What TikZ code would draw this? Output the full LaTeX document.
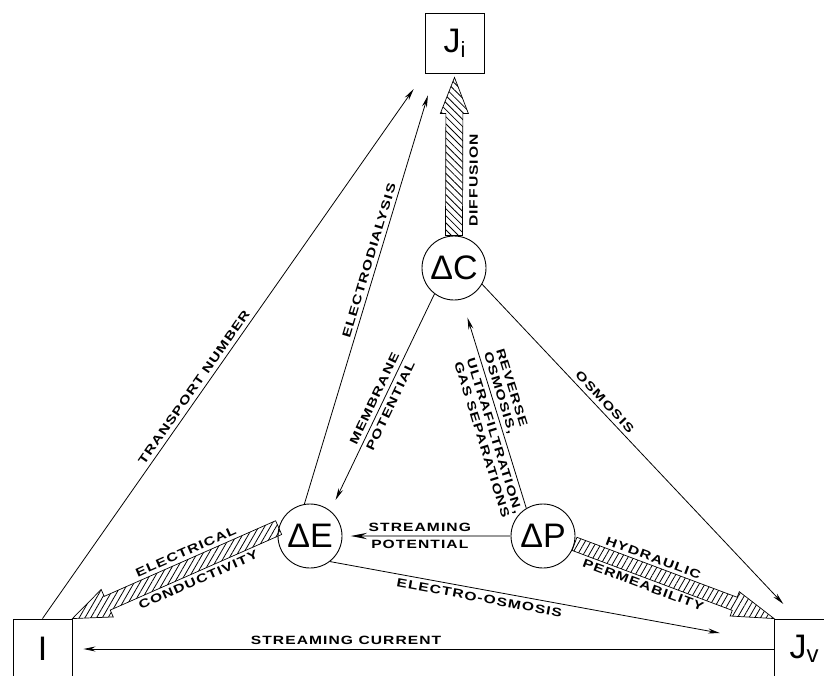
\documentclass[tikz,border=0pt]{standalone}
\usepackage{fontspec}
\setmainfont{Liberation Sans}
\newfontfamily\lblfamily{Liberation Sans}[FakeStretch=1.3, LetterSpace=9]
\usetikzlibrary{positioning,arrows.meta,calc,patterns.meta}
\tikzset{
  state/.style={draw, circle, minimum size=64pt, inner sep=0pt, line width=0.9pt, font=\fontsize{34}{34}\selectfont},
  flux/.style={draw, minimum width=59pt, minimum height=60pt, inner sep=0pt, line width=0.9pt, font=\fontsize{34}{34}\selectfont},
  link/.style={line width=0.8pt, -{Stealth[length=12pt,width=5pt]}},
  lbl/.style={font=\lblfamily\bfseries\fontsize{12}{13}\selectfont, inner sep=1pt},
}
\newcommand\hatcharrow[6]{%
  \coordinate (hb) at ($(#2)!#5!(#1)$);
  \draw[line width=0.7pt, pattern={Lines[angle=#6,distance=5pt,line width=0.8pt]}]
    ($(#1)!#3!90:(#2)$) -- ($(hb)!#3!-90:(#1)$) -- ($(hb)!#4!-90:(#1)$) -- (#2)
    -- ($(hb)!#4!90:(#1)$) -- ($(hb)!#3!90:(#1)$) -- ($(#1)!#3!-90:(#2)$) -- cycle;
}
\begin{document}
\begin{tikzpicture}[x=1pt, y=-1pt]
  \useasboundingbox (0,0) rectangle (824,675);

  \node[flux] (Ji) at (454.5,43) {J\raisebox{-5pt}{\fontsize{22}{22}\selectfont i}};
  \node[state] (dC) at (454,268) {ΔC};
  \node[state] (dE) at (310,536) {ΔE};
  \node[state] (dP) at (543,536) {ΔP};
  \node[flux] (I) at (42.5,649) {I};
  \node[flux] (Jv) at (804,649) {J\raisebox{-4pt}{\fontsize{24}{24}\selectfont v}};

  \coordinate (difftip) at ([yshift=-4pt]Ji.south);
  \hatcharrow{dC.north}{difftip}{8.5pt}{14pt}{36pt}{-45}
  \hatcharrow{dE.165}{I.north east}{7.5pt}{15pt}{38pt}{60}
  \hatcharrow{dP.-14}{Jv.north west}{7pt}{13pt}{42pt}{60}

  \draw[link, shorten >=19pt] (I.north) -- (Ji.south west)
    node[lbl, pos=0.415, sloped, above=3pt] {TRANSPORT NUMBER};
  \draw[link, shorten >=23pt] (dE.100) -- ([xshift=10pt]Ji.south west)
    node[lbl, pos=0.56, sloped, above=3pt] {ELECTRODIALYSIS};
  \draw[link, shorten >=12pt] (dC.233) -- (dE.51)
    node[lbl, pos=0.5, sloped, align=center] {MEMBRANE\\[5pt]POTENTIAL};
  \draw[link, shorten >=19pt] (dP.121) -- (dC.-76)
    node[lbl, pos=0.36, sloped, align=left] {REVERSE\\OSMOSIS,\\[5pt]ULTRAFILTRATION,\\GAS SEPARATIONS};
  \draw[link, shorten >=20pt] (dC.-30) -- ([xshift=23pt]Jv.north west)
    node[lbl, pos=0.37, sloped, above=3pt] {OSMOSIS};
  \draw[line width=2.5pt, black!40, -{Stealth[black,length=16pt,width=6pt]}, shorten >=8pt] (dP.west) -- (dE.east)
    node[lbl, black, pos=0.54, above=2pt] {STREAMING}
    node[lbl, black, pos=0.54, below=2pt] {POTENTIAL};
  \draw[link, shorten >=55pt] (dE.-52) -- ([yshift=6pt]Jv.west)
    node[lbl, pos=0.34, sloped, below=3pt] {ELECTRO-OSMOSIS};
  \draw[link, shorten >=11pt] (Jv.west) -- (I.east)
    node[lbl, pos=0.61, above=3pt] {STREAMING CURRENT};

  \path (dC.north) -- (Ji.south)
    node[lbl, pos=0.34, sloped, below=14pt] {DIFFUSION};
  \path (dE.165) -- (I.north east)
    node[lbl, pos=0.42, sloped, above=10pt] {ELECTRICAL}
    node[lbl, pos=0.42, sloped, below=10pt] {CONDUCTIVITY};
  \path (dP.-14) -- (Jv.north west)
    node[lbl, pos=0.37, sloped, above=9pt] {HYDRAULIC}
    node[lbl, pos=0.37, sloped, below=9pt] {PERMEABILITY};
\end{tikzpicture}
\end{document}
